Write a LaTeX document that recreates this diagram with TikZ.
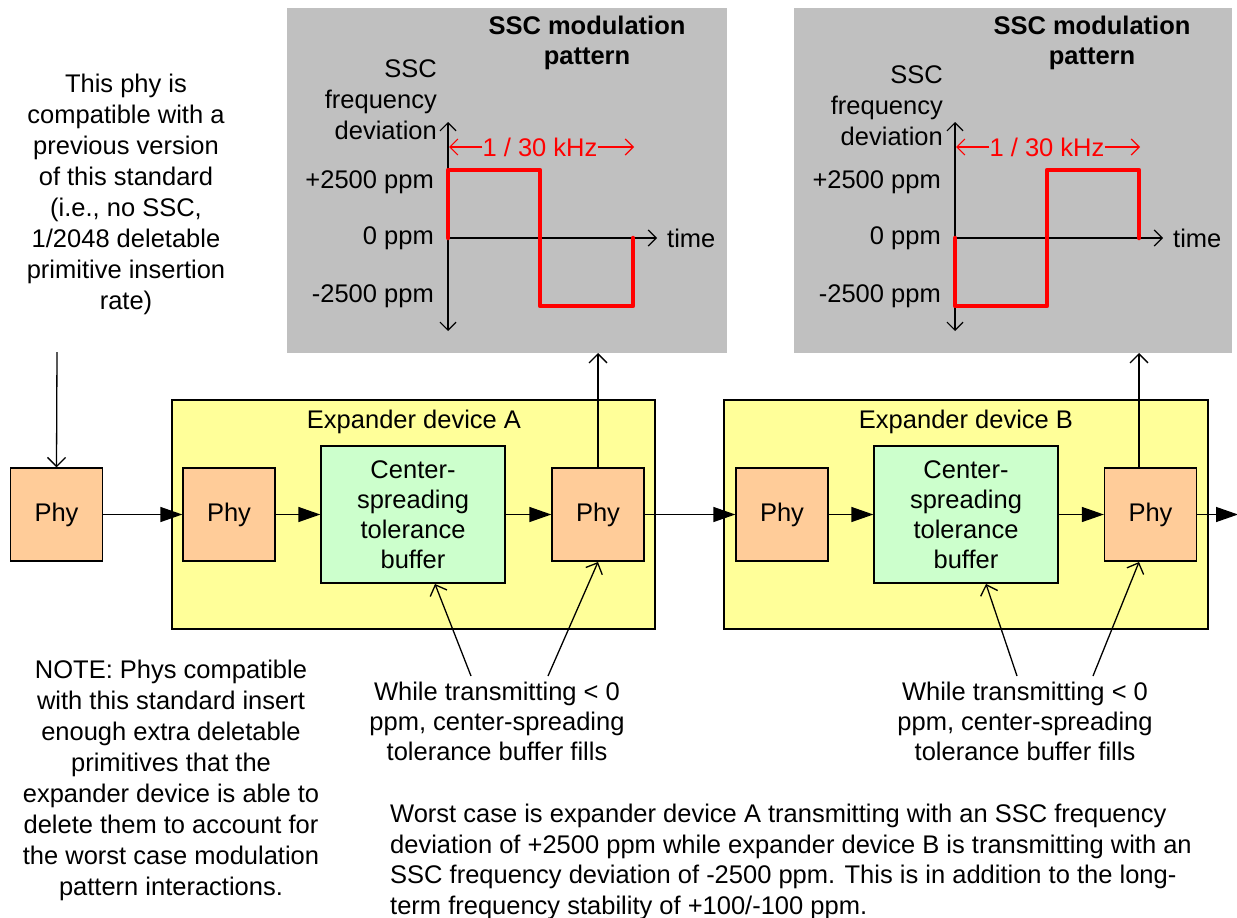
\documentclass[tikz,border=0pt]{standalone}
\usepackage{fontspec}
\setmainfont{Liberation Sans}
\usetikzlibrary{arrows.meta}
\definecolor{panelgray}{RGB}{192,192,192}
\definecolor{expyellow}{RGB}{255,255,153}
\definecolor{phyorange}{RGB}{255,204,153}
\definecolor{bufgreen}{RGB}{204,255,204}
\begin{document}
\begin{tikzpicture}[x=1pt,y=-1pt,
  every node/.style={font=\fontsize{25.5}{31}\selectfont, inner sep=0pt},
  panel/.style={fill=panelgray, draw=none},
  expbox/.style={fill=expyellow, draw=black, line width=1.3pt},
  phybox/.style={fill=phyorange, draw=black, line width=1.3pt, minimum width=92pt, minimum height=93pt},
  bufbox/.style={fill=bufgreen, draw=black, line width=1.3pt, minimum width=184pt, minimum height=137pt, align=center, font=\fontsize{25.5}{30}\selectfont},
  flow/.style={line width=1.3pt, -{Triangle[length=22pt,width=15pt]}},
  openarr/.style={line width=1.3pt, -{Straight Barb[length=9pt,width=18pt]}},
  axis/.style={line width=1.2pt, {Straight Barb[length=8pt,width=16pt]}-{Straight Barb[length=8pt,width=16pt]}},
  haxis/.style={line width=1.2pt, -{Straight Barb[length=8pt,width=16pt]}},
  wave/.style={red, line width=4.5pt, line join=round, line cap=round},
  dimarr/.style={red, line width=1.2pt, -{Straight Barb[length=8pt,width=16pt]}},
  lbl/.style={anchor=east},
  title/.style={align=center, font=\bfseries\fontsize{25.5}{30}\selectfont}
]
\useasboundingbox (0,0) rectangle (1237,918);

% ---------- Panel A ----------
\node[panel, minimum width=440pt, minimum height=345pt] (panelA) at (507,180.5) {};
\node[title] (titleA) at (587,42.5) {SSC modulation\\pattern};
\node[lbl, align=right] (ylabA) at (437,100) {SSC\\frequency\\deviation};
\node[lbl] (pA) at (434,182) {+2500 ppm};
\node[lbl] (zA) at (434,238) {0 ppm};
\node[lbl] (mA) at (434,296) {-2500 ppm};
\coordinate (aAtop) at (448,122);
\coordinate (aAbot) at (448,331);
\coordinate (aAorig) at (448,238);
\coordinate (aAend) at (657,238);
\draw[axis] (aAtop) -- (aAbot);
\draw[haxis] (aAorig) -- (aAend);
\node[anchor=west] (timeA) at (667,238) {time};
\draw[wave] (448,238) -- (448,170) -- (540,170) -- (540,306) -- (633,306) -- (633,238);
\node[red] (perA) at (540,147) {1 / 30 kHz};
\coordinate (perAl) at (449,147);
\coordinate (perAr) at (634,147);
\draw[dimarr] (perA.west) -- (perAl);
\draw[dimarr] (perA.east) -- (perAr);

% ---------- Panel B ----------
\node[panel, minimum width=438pt, minimum height=345pt] (panelB) at (1013,180.5) {};
\node[title] (titleB) at (1092,42.5) {SSC modulation\\pattern};
\node[lbl, align=right] (ylabB) at (943,106) {SSC\\frequency\\deviation};
\node[lbl] (pB) at (941,182) {+2500 ppm};
\node[lbl] (zB) at (941,238) {0 ppm};
\node[lbl] (mB) at (941,296) {-2500 ppm};
\coordinate (aBtop) at (955,122);
\coordinate (aBbot) at (955,331);
\coordinate (aBorig) at (955,238);
\coordinate (aBend) at (1163,238);
\draw[axis] (aBtop) -- (aBbot);
\draw[haxis] (aBorig) -- (aBend);
\node[anchor=west] (timeB) at (1173,238) {time};
\draw[wave] (955,238) -- (955,306) -- (1047,306) -- (1047,170) -- (1139,170) -- (1139,238);
\node[red] (perB) at (1047,147) {1 / 30 kHz};
\coordinate (perBl) at (956,147);
\coordinate (perBr) at (1140,147);
\draw[dimarr] (perB.west) -- (perBl);
\draw[dimarr] (perB.east) -- (perBr);

% ---------- Expander boxes ----------
\node[expbox, minimum width=483pt, minimum height=229pt] (expA) at (413.5,514.5) {};
\node (expAlab) at (414,422) {Expander device A};
\node[expbox, minimum width=484pt, minimum height=229pt] (expB) at (966,514.5) {};
\node (expBlab) at (966,422) {Expander device B};

% ---------- Phys and buffers ----------
\node[phybox] (phyL) at (56.5,514.5) {Phy};
\node[phybox] (phyA1) at (229,514.5) {Phy};
\node[bufbox] (bufA) at (413,514.5) {Center-\\spreading\\tolerance\\buffer};
\node[phybox] (phyA2) at (598,514.5) {Phy};
\node[phybox] (phyB1) at (782,514.5) {Phy};
\node[bufbox] (bufB) at (966,514.5) {Center-\\spreading\\tolerance\\buffer};
\node[phybox] (phyB2) at (1150.5,514.5) {Phy};
\coordinate (outR) at (1238,514.5);

\draw[flow] (phyL) -- (phyA1);
\draw[flow] (phyA1) -- (bufA);
\draw[flow] (bufA) -- (phyA2);
\draw[flow] (phyA2) -- (phyB1);
\draw[flow] (phyB1) -- (bufB);
\draw[flow] (bufB) -- (phyB2);
\draw[flow] (phyB2) -- (outR);

% ---------- Texts ----------
\node[align=center] (compat) at (126,194.5) {This phy is\\compatible with a\\previous version\\of this standard\\(i.e., no SSC,\\1/2048 deletable\\primitive insertion\\rate)};
\coordinate (compatEnd) at (57,352);
\draw[openarr] (compatEnd) -- (phyL.north);

\draw[openarr] (phyA2.north) -- (598,353);
\draw[openarr] (1139,468) -- (1139,353);

\node[align=center, font=\fontsize{25.5}{30}\selectfont] (whileA) at (497,721) {While transmitting < 0\\ppm, center-spreading\\tolerance buffer fills};
\node[align=center, font=\fontsize{25.5}{30}\selectfont] (whileB) at (1025,721) {While transmitting < 0\\ppm, center-spreading\\tolerance buffer fills};
\coordinate (wA1) at (471,676);
\coordinate (wA2) at (548,676);
\coordinate (wB1) at (1017,676);
\coordinate (wB2) at (1093,676);
\draw[openarr] (wA1) -- (435,584);
\draw[openarr] (wA2) -- (598,562);
\draw[openarr] (wB1) -- (986,584);
\draw[openarr] (wB2) -- (1139,562);

\node[align=center] (note) at (171,780) {NOTE: Phys compatible\\with this standard insert\\enough extra deletable\\primitives that the\\expander device is able to\\delete them to account for\\the worst case modulation\\pattern interactions.};

\node[align=left, anchor=west, font=\fontsize{25.5}{30.5}\selectfont] (worst) at (390,862) {Worst case is expander device A transmitting with an SSC frequency\\deviation of +2500 ppm while expander device B is transmitting with an\\SSC frequency deviation of -2500 ppm. This is in addition to the long-\\term frequency stability of +100/-100 ppm.};
\end{tikzpicture}
\end{document}
